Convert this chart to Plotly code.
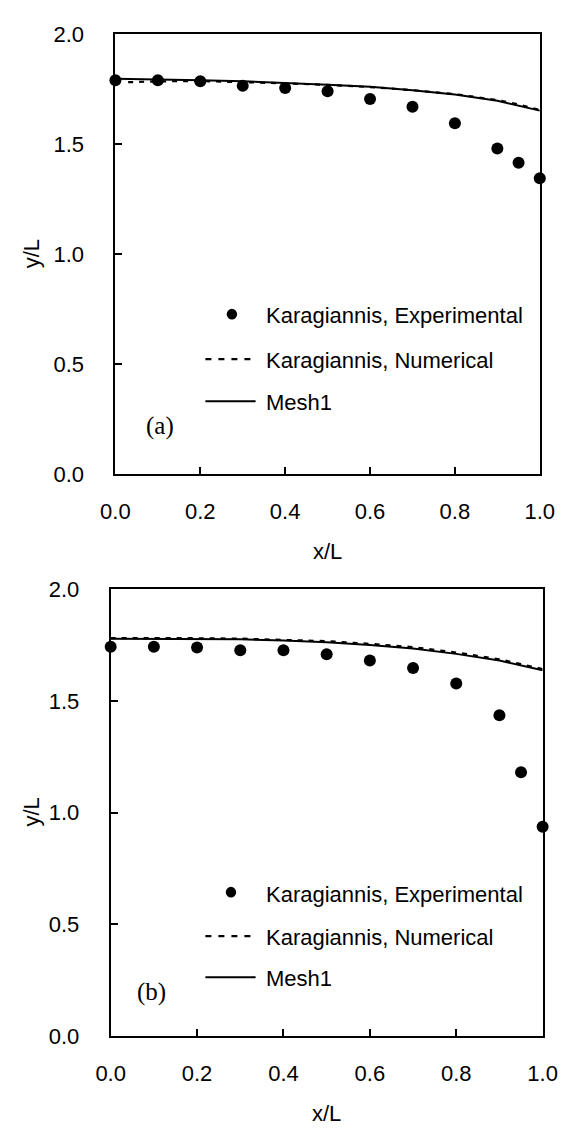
import plotly.graph_objects as go

W, H = 569, 1136

# ---- data: free-surface profile y/L against x/L ----
x_exp = [0.0, 0.1, 0.2, 0.3, 0.4, 0.5, 0.6, 0.7, 0.8, 0.9, 0.95, 1.0]

# case (a)
a_exp = [1.79, 1.79, 1.785, 1.765, 1.755, 1.74, 1.705, 1.67, 1.595, 1.48, 1.415, 1.345]
a_num_x = [0.03, 0.1, 0.2, 0.3, 0.4, 0.5, 0.6, 0.7, 0.8, 0.9, 0.95, 1.0]
a_num = [1.781, 1.785, 1.786, 1.782, 1.776, 1.769, 1.759, 1.745, 1.727, 1.700, 1.680, 1.655]
a_mesh_x = [0.0, 0.1, 0.2, 0.3, 0.4, 0.5, 0.6, 0.7, 0.8, 0.9, 1.0]
a_mesh = [1.797, 1.795, 1.790, 1.785, 1.778, 1.770, 1.760, 1.745, 1.725, 1.697, 1.652]

# case (b)
b_exp = [1.742, 1.742, 1.738, 1.726, 1.726, 1.708, 1.68, 1.647, 1.577, 1.436, 1.181, 0.937]
b_num_x = [0.0, 0.1, 0.2, 0.3, 0.4, 0.5, 0.6, 0.7, 0.8, 0.9, 1.0]
b_num = [1.780, 1.781, 1.780, 1.778, 1.774, 1.767, 1.755, 1.740, 1.716, 1.686, 1.642]
b_mesh_x = [0.0, 0.1, 0.2, 0.3, 0.4, 0.5, 0.6, 0.7, 0.8, 0.9, 1.0]
b_mesh = [1.778, 1.778, 1.777, 1.775, 1.770, 1.762, 1.750, 1.734, 1.710, 1.680, 1.637]

x_ticks = [0.0, 0.2, 0.4, 0.6, 0.8, 1.0]
x_tick_text = ["0.0", "0.2", "0.4", "0.6", "0.8", "1.0"]
y_ticks = [0.0, 0.5, 1.0, 1.5, 2.0]
y_tick_text = ["0.0", "0.5", "1.0", "1.5", "2.0"]

legend_labels = ["Karagiannis, Experimental", "Karagiannis, Numerical", "Mesh1"]
panel_labels = ["(a)", "(b)"]

SANS = "Liberation Sans, Arial, sans-serif"
SERIF = "Liberation Serif, Times New Roman, serif"


def px(xp):
    return xp / W


def py(yp):
    return 1 - yp / H


fig = go.Figure()

panels = [
    dict(xa="x", ya="y", exp=a_exp, nx=a_num_x, ny=a_num, mx=a_mesh_x, my=a_mesh),
    dict(xa="x2", ya="y2", exp=b_exp, nx=b_num_x, ny=b_num, mx=b_mesh_x, my=b_mesh),
]

for p in panels:
    fig.add_trace(go.Scatter(x=p["mx"], y=p["my"], mode="lines", name=legend_labels[2],
                             line=dict(color="black", width=2),
                             xaxis=p["xa"], yaxis=p["ya"], showlegend=False))
    fig.add_trace(go.Scatter(x=p["nx"], y=p["ny"], mode="lines", name=legend_labels[1],
                             line=dict(color="black", width=2.2, dash="5px,6px"),
                             xaxis=p["xa"], yaxis=p["ya"], showlegend=False))
    fig.add_trace(go.Scatter(x=x_exp, y=p["exp"], mode="markers", name=legend_labels[0],
                             marker=dict(color="black", size=12),
                             cliponaxis=False,
                             xaxis=p["xa"], yaxis=p["ya"], showlegend=False))

# plot-area frames in pixels: (left, right, top, bottom)
frames = [(106, 554, 22.5, 472.7), (101, 557, 590, 1047.3)]

axis_common = dict(
    showline=True, linecolor="black", linewidth=2, mirror=True,
    ticks="inside", ticklen=7, tickwidth=1.5, tickcolor="black",
    showgrid=False, zeroline=False, fixedrange=True,
    tickfont=dict(family=SANS, size=22, color="black"),
)

layout_axes = {}
for i, (l, r, t, b) in enumerate(frames):
    sfx = "" if i == 0 else str(i + 1)
    layout_axes["xaxis" + sfx] = dict(
        axis_common, domain=[px(l), px(r)], range=[0, 1],
        tickvals=x_ticks, ticktext=x_tick_text, ticklabelstandoff=16,
        ticklabeloverflow="allow",
        anchor="y" + sfx,
    )
    layout_axes["yaxis" + sfx] = dict(
        axis_common, domain=[py(b), py(t)], range=[0, 2],
        tickvals=y_ticks, ticktext=y_tick_text, ticklabelstandoff=25,
        ticklabeloverflow="allow",
        anchor="x" + sfx,
    )

annotations = []
shapes = []

# axis titles
title_pos = [
    ((330, 552), (17, 247.6)),
    ((329, 1126), (17, 818.5)),
]
for (xt, yt) in title_pos:
    annotations.append(dict(text="x/L", x=px(xt[0]), y=py(xt[1]), xref="paper", yref="paper",
                            showarrow=False, xanchor="center", yanchor="middle",
                            font=dict(family=SANS, size=22, color="black")))
    annotations.append(dict(text="y/L", x=px(yt[0]), y=py(yt[1]), xref="paper", yref="paper",
                            showarrow=False, xanchor="center", yanchor="middle", textangle=-90,
                            font=dict(family=SANS, size=22, color="black")))

# in-plot legends and panel labels
legend_rows = [
    dict(marker=(229, 309), rows=(309, 355, 398), label=(153, 423)),
    dict(marker=(228, 900), rows=(901, 945, 987), label=(144, 1002)),
]
for i, lg in enumerate(legend_rows):
    mx, my = lg["marker"]
    r = 5.5
    shapes.append(dict(type="circle", xref="paper", yref="paper",
                       x0=px(mx - r), x1=px(mx + r), y0=py(my + r), y1=py(my - r),
                       fillcolor="black", line=dict(color="black", width=0)))
    shapes.append(dict(type="line", xref="paper", yref="paper",
                       x0=px(201), x1=px(254), y0=py(lg["rows"][1]), y1=py(lg["rows"][1]),
                       line=dict(color="black", width=2.2, dash="6px,7px")))
    shapes.append(dict(type="line", xref="paper", yref="paper",
                       x0=px(201), x1=px(254), y0=py(lg["rows"][2]), y1=py(lg["rows"][2]),
                       line=dict(color="black", width=2)))
    for text, yrow in zip(legend_labels, lg["rows"]):
        annotations.append(dict(text=text, x=px(263), y=py(yrow + 1), xref="paper", yref="paper",
                                showarrow=False, xanchor="left", yanchor="middle",
                                font=dict(family=SANS, size=22, color="black")))
    lx, ly = lg["label"]
    annotations.append(dict(text=panel_labels[i], x=px(lx), y=py(ly), xref="paper", yref="paper",
                            showarrow=False, xanchor="center", yanchor="middle",
                            font=dict(family=SERIF, size=25, color="black")))

fig.update_layout(
    width=W, height=H,
    margin=dict(l=0, r=0, t=0, b=0),
    paper_bgcolor="white", plot_bgcolor="white",
    showlegend=False,
    annotations=annotations, shapes=shapes,
    **layout_axes,
)

fig.write_html("out.html", config={"displayModeBar": False})
